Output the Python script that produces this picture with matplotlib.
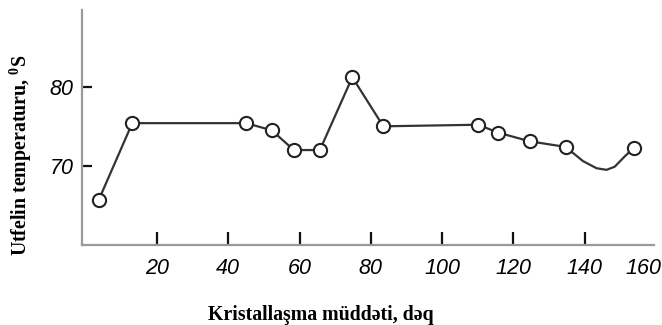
import matplotlib
matplotlib.use("Agg")
import matplotlib.pyplot as plt

plt.rcParams["mathtext.fontset"] = "custom"
plt.rcParams["mathtext.bf"] = "Liberation Serif:bold"
plt.rcParams["mathtext.rm"] = "Liberation Serif"

# Measured points (markers)
time_pts = [3.7, 13.1, 45.0, 52.2, 58.4, 65.7, 74.8, 83.5, 110.1, 115.7, 124.6, 134.6, 153.8]
temp_pts = [65.7, 75.4, 75.4, 74.5, 72.0, 72.0, 81.2, 75.0, 75.2, 74.2, 73.1, 72.4, 72.3]

# Curve path (includes the smooth dip between the last two markers)
time_line = [3.7, 13.1, 45.0, 52.2, 58.4, 65.7, 74.8, 83.5, 110.1, 115.7, 124.6, 134.6,
             139.5, 143.3, 146.1, 148.4, 151.2, 153.8]
temp_line = [65.7, 75.4, 75.4, 74.5, 72.0, 72.0, 81.2, 75.0, 75.2, 74.2, 73.1, 72.4,
             70.6, 69.7, 69.5, 69.9, 71.2, 72.3]

x_ticks = [20, 40, 60, 80, 100, 120, 140]
y_ticks = [70, 80]
last_x_label = "160"
x_label = "Kristallaşma müddəti, dəq"
y_label = "Utfelin temperaturu, $^{\\mathbf{0}}$S"

tick_font = dict(family=["Liberation Sans", "DejaVu Sans"], style="italic", size=15.5)
label_font = dict(family=["Liberation Serif", "DejaVu Serif"], weight="bold", size=14.3)

fig = plt.figure(figsize=(6.62, 3.25), dpi=100)
ax = fig.add_axes([82/662, 1-245/325, (654-82)/662, (245-10)/325])

ax.plot(time_line, temp_line, color="#333333", lw=1.6, zorder=2)
ax.plot(time_pts, temp_pts, ls="none", marker="o", ms=9.5, mfc="white",
        mec="#222222", mew=1.5, zorder=3)

ax.set_xlim(-1, 159.4)
ax.set_ylim(60, 89.7)
ax.set_xticks(x_ticks)
ax.set_yticks(y_ticks)
ax.set_xticklabels([str(v) for v in x_ticks], fontdict=tick_font)
ax.set_yticklabels([str(v) for v in y_ticks], fontdict=tick_font)
ax.tick_params(axis="x", direction="in", length=9.5, width=1.6, color="#111111", pad=9)
ax.tick_params(axis="y", direction="in", length=7.5, width=1.6, color="#111111", pad=6)
# last tick label, beyond the drawn axis line
fig.text(661/662, 1-268/325, last_x_label, ha="right", va="center", **tick_font)

for s in ["top", "right"]:
    ax.spines[s].set_visible(False)
for s in ["left", "bottom"]:
    ax.spines[s].set_color("#9a9a9a")
    ax.spines[s].set_linewidth(1.6)

fig.text(321/662, 1-315/325, x_label, ha="center", va="center", **label_font)
fig.text(21/662, 1-155/325, y_label, ha="center", va="center", rotation=90, **label_font)

fig.savefig("out.png", dpi=100)
